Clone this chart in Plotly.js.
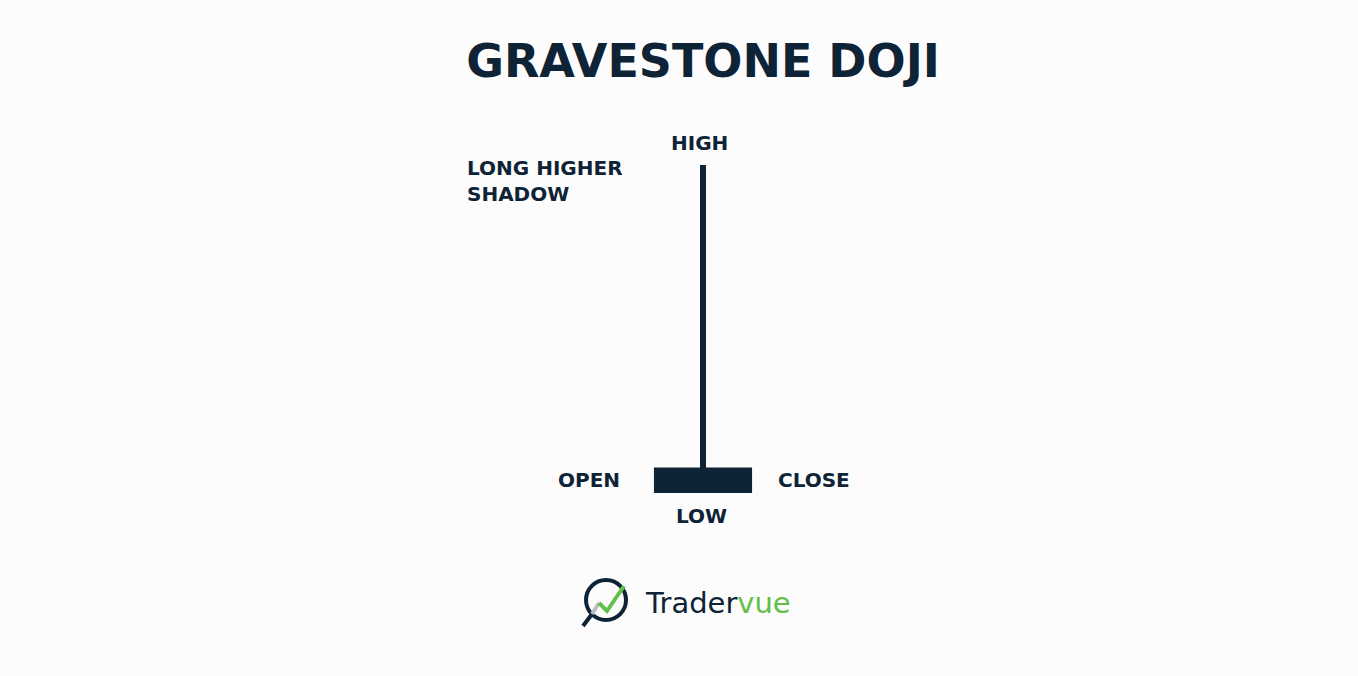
<!DOCTYPE html>
<html>
<head>
<meta charset="utf-8">
<script src="https://cdn.plot.ly/plotly-3.0.1.min.js"></script>
<style>
  html, body { margin: 0; padding: 0; background: #fcfcfd; }
  #chart { width: 1358px; height: 676px; }
</style>
</head>
<body>
<div id="chart"></div>
<script>
// one gravestone doji candle
var candleX = [1];
var openVals = [20.0];
var highVals = [30.0];
var lowVals = [20.0];
var closeVals = [20.6];

var chartTitle = 'GRAVESTONE DOJI';
var shadowLabel = 'LONG HIGHER<br>SHADOW';

var W = 1358, H = 676;
var ink = '#0e2336';
var green = '#62bf4a';
var labelFont = {family: 'DejaVu Sans', size: 20, color: ink, weight: 700};

function px(x) { return x / W; }
function py(y) { return 1 - y / H; }

// axis ranges picked so the candle sits where it does in the picture
var xUnit = 188;          // px per x unit
var xCenterPx = 703;
var x0 = candleX[0] - xCenterPx / xUnit;
var yScale = 32.5;        // px per price unit
var yTop = highVals[0] + 165 / yScale;
var yBottom = lowVals[0] - (H - 490) / yScale;
var mid = (openVals[0] + closeVals[0]) / 2;

var data = [{
  type: 'candlestick',
  x: candleX,
  open: openVals,
  high: highVals,
  low: lowVals,
  close: closeVals,
  whiskerwidth: 0,
  increasing: {line: {color: ink, width: 6}, fillcolor: ink},
  decreasing: {line: {color: ink, width: 6}, fillcolor: ink},
  hoverinfo: 'skip'
}];

var layout = {
  width: W,
  height: H,
  margin: {l: 0, r: 0, t: 0, b: 0, pad: 0},
  paper_bgcolor: '#fcfcfd',
  plot_bgcolor: '#fcfcfd',
  showlegend: false,
  title: {
    text: '<b>' + chartTitle + '</b>',
    x: px(703), xanchor: 'center',
    y: py(61), yanchor: 'middle',
    font: {family: 'DejaVu Sans', size: 46, color: ink}
  },
  xaxis: {
    range: [x0, x0 + W / xUnit],
    visible: false, fixedrange: true,
    rangeslider: {visible: false}
  },
  yaxis: {
    range: [yBottom, yTop],
    visible: false, fixedrange: true
  },
  annotations: [
    {x: candleX[0], y: highVals[0], xref: 'x', yref: 'y', text: '<b>HIGH</b>',
     showarrow: false, yanchor: 'bottom', xshift: -4, yshift: 8, font: labelFont},
    {x: candleX[0], y: lowVals[0], xref: 'x', yref: 'y', text: '<b>LOW</b>',
     showarrow: false, yanchor: 'top', xshift: -2, yshift: -12, font: labelFont},
    {x: candleX[0], y: mid, xref: 'x', yref: 'y', text: '<b>OPEN</b>',
     showarrow: false, xanchor: 'right', xshift: -81, font: labelFont},
    {x: candleX[0], y: mid, xref: 'x', yref: 'y', text: '<b>CLOSE</b>',
     showarrow: false, xanchor: 'left', xshift: 73, font: labelFont},
    {x: px(465), y: py(181), xref: 'paper', yref: 'paper', text: '<b>' + shadowLabel + '</b>',
     showarrow: false, xanchor: 'left', yanchor: 'middle', align: 'left', font: labelFont},
    {x: px(643), y: py(603), xref: 'paper', yref: 'paper',
     text: 'Trader<span style="color:' + green + '">vue</span>',
     showarrow: false, xanchor: 'left', yanchor: 'middle',
     font: {family: 'DejaVu Sans', size: 29, color: ink}}
  ],
  shapes: [
    // logo: magnifier ring
    {type: 'circle', xref: 'paper', yref: 'paper',
     x0: px(586), x1: px(626), y0: py(620), y1: py(580),
     line: {color: ink, width: 4}},
    // handle
    {type: 'line', xref: 'paper', yref: 'paper',
     x0: px(592), y0: py(614), x1: px(583), y1: py(626),
     line: {color: ink, width: 4}},
    // grey rise
    {type: 'line', xref: 'paper', yref: 'paper',
     x0: px(592), y0: py(614), x1: px(599), y1: py(603),
     line: {color: '#b9bec2', width: 4}},
    // green zigzag
    {type: 'path', xref: 'paper', yref: 'paper',
     path: 'M ' + px(599) + ' ' + py(603) + ' L ' + px(607) + ' ' + py(611) +
           ' L ' + px(624) + ' ' + py(586),
     line: {color: green, width: 4}}
  ]
};

Plotly.newPlot('chart', data, layout, {staticPlot: true, displayModeBar: false});
</script>
</body>
</html>
